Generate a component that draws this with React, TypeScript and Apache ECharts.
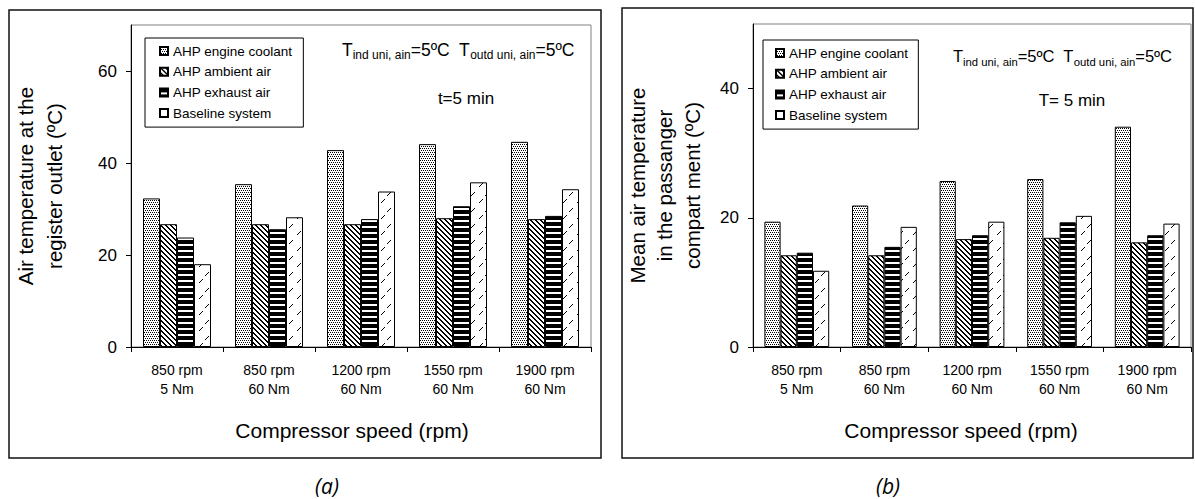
import React, { useEffect, useRef } from 'react';
import * as echarts from 'echarts';

const categories = ['850 rpm\n5 Nm', '850 rpm\n60 Nm', '1200 rpm\n60 Nm', '1550 rpm\n60 Nm', '1900 rpm\n60 Nm'];
const seriesNames = ['AHP engine coolant', 'AHP ambient air', 'AHP exhaust air', 'Baseline system'];

// (a) air temperature at the register outlet
const outletCoolant = [32.3, 35.4, 42.8, 44.1, 44.6];
const outletAmbient = [26.7, 26.7, 26.7, 28.0, 27.8];
const outletExhaust = [23.8, 25.6, 27.8, 30.6, 28.5];
const outletBaseline = [18.0, 28.2, 33.8, 35.8, 34.3];
const outletTicks = [0, 20, 40, 60];

// (b) mean air temperature in the passenger compartment
const cabinCoolant = [19.4, 21.9, 25.7, 26.0, 34.1];
const cabinAmbient = [14.2, 14.2, 16.7, 16.9, 16.2];
const cabinExhaust = [14.6, 15.5, 17.3, 19.3, 17.3];
const cabinBaseline = [11.8, 18.6, 19.4, 20.3, 19.1];
const cabinTicks = [0, 20, 40];

const FONT = 'Liberation Sans, Arial, sans-serif';

function tile(w: number, h: number, pts: number[][]) {
  const c = document.createElement('canvas');
  c.width = w;
  c.height = h;
  const ctx = c.getContext('2d') as CanvasRenderingContext2D;
  ctx.fillStyle = '#ffffff';
  ctx.fillRect(0, 0, w, h);
  ctx.fillStyle = '#000000';
  pts.forEach(([x, y, pw, ph]) => ctx.fillRect(x, y, pw || 1, ph || 1));
  return { image: c.toDataURL(), repeat: 'repeat', imageWidth: w, imageHeight: h } as any;
}

function patterns() {
  const dots = tile(4, 4, [[0, 0], [2, 0], [1, 2], [3, 2]]);
  const diag: number[][] = [];
  for (let i = 0; i < 5; i++) { diag.push([i, i]); diag.push([(i + 1) % 5, i]); }
  const back = tile(5, 5, diag);
  const stripes = tile(2, 6, [[0, 0, 2, 4]]);
  const slash = tile(14, 16, [[3, 10], [4, 9], [5, 8], [6, 7], [10, 2], [11, 1], [12, 0], [9, 3]]);
  return [dots, back, stripes, slash];
}

export default function App() {
  const ref = useRef<HTMLDivElement>(null);
  useEffect(() => {
    document.body.style.margin = '0';
    if (!ref.current) return;
    const chart = echarts.init(ref.current, null, { renderer: 'svg' });
    const pats = patterns();
    const aData = [outletCoolant, outletAmbient, outletExhaust, outletBaseline];
    const bData = [cabinCoolant, cabinAmbient, cabinExhaust, cabinBaseline];

    const legendBase = {
      orient: 'vertical',
      itemWidth: 8,
      itemHeight: 8,
      itemGap: 4.7,
      icon: 'rect',
      backgroundColor: '#fff',
      borderColor: '#000',
      borderWidth: 1,
      textStyle: { fontFamily: FONT, fontSize: 13.5, color: '#000', lineHeight: 16 },
      data: seriesNames,
    };

    const xAxisBase = (gi: number, shift: number) => ({
      type: 'category',
      gridIndex: gi,
      data: categories,
      axisLine: { lineStyle: { color: '#000', width: 1 } },
      axisTick: { show: true, length: 5, lineStyle: { color: '#000' } },
      axisLabel: { fontFamily: FONT, fontSize: 14, color: '#000', lineHeight: 19, margin: 13 },
      name: 'Compressor speed (rpm)',
      nameLocation: 'middle',
      nameGap: 73,
      nameTextStyle: { fontFamily: FONT, fontSize: 21, color: '#000', padding: [0, shift, 0, 0] },
    });

    const yAxisBase = (gi: number, max: number, ticks: number[], name: string, gap: number, lh: number) => ({
      type: 'value',
      gridIndex: gi,
      min: 0,
      max,
      axisLine: { show: true, lineStyle: { color: '#000', width: 1 } },
      axisTick: { show: true, length: 5, lineStyle: { color: '#000' }, customValues: ticks },
      axisLabel: { fontFamily: FONT, fontSize: 17, color: '#000', margin: 14, customValues: ticks },
      splitLine: { show: false },
      name,
      nameLocation: 'middle',
      nameGap: gap,
      nameTextStyle: { fontFamily: FONT, fontSize: 20.5, color: '#000', lineHeight: lh },
    });

    const series: any[] = [];
    seriesNames.forEach((n, i) => {
      series.push({
        type: 'bar', name: n, xAxisIndex: 0, yAxisIndex: 0, data: aData[i],
        barWidth: 17, barGap: '0%',
        itemStyle: { color: pats[i], borderColor: '#000', borderWidth: 1 },
      });
    });
    seriesNames.forEach((n, i) => {
      series.push({
        type: 'bar', name: n, xAxisIndex: 1, yAxisIndex: 1, data: bData[i],
        barWidth: 16.2, barGap: '0%',
        itemStyle: { color: pats[i], borderColor: '#000', borderWidth: 1 },
      });
    });

    const annot = (x: number, y: number, fm: number, fs: number) => ({
      type: 'text', x, y,
      style: {
        text: '{m|T}{s|ind uni, ain}{m|=5ºC  T}{s|outd uni, ain}{m|=5ºC}',
        verticalAlign: 'middle',
        rich: {
          m: { fontFamily: FONT, fontSize: fm, lineHeight: 22, fill: '#000', color: '#000' },
          s: { fontFamily: FONT, fontSize: fs, lineHeight: 12, verticalAlign: 'bottom', fill: '#000', color: '#000' },
        },
      },
    });

    chart.setOption({
      animation: false,
      backgroundColor: '#fff',
      grid: [
        { left: 131, top: 25, width: 460, height: 322, show: true, borderColor: '#808080', borderWidth: 1, backgroundColor: 'transparent' },
        { left: 753, top: 24, width: 438, height: 323, show: true, borderColor: '#808080', borderWidth: 1, backgroundColor: 'transparent' },
      ],
      legend: [
        { ...legendBase, left: 145, top: 38, padding: [5, 11, 6, 14] },
        { ...legendBase, left: 763, top: 40, padding: [5, 10, 6, 12] },
      ],
      xAxis: [xAxisBase(0, 18), xAxisBase(1, 22)],
      yAxis: [
        yAxisBase(0, 70, outletTicks, 'Air temperature at the\nregister outlet (ºC)', 62, 29),
        yAxisBase(1, 50, cabinTicks, 'Mean air temperature\nin the passanger\ncompart ment (ºC)', 47, 27.5),
      ],
      series,
      graphic: [
        { type: 'rect', shape: { x: 9, y: 10, width: 592, height: 448 }, style: { fill: 'none', stroke: '#111', lineWidth: 1.5 }, z: 100 },
        { type: 'rect', shape: { x: 622, y: 8, width: 571, height: 450 }, style: { fill: 'none', stroke: '#111', lineWidth: 1.5 }, z: 100 },
        annot(342, 50, 17.5, 12),
        annot(953, 56, 16.5, 11.3),
        { type: 'text', x: 466, y: 98, style: { text: 't=5 min', fontFamily: FONT, fontSize: 17, fill: '#000', align: 'center', verticalAlign: 'middle' } },
        { type: 'text', x: 1072, y: 100, style: { text: 'T= 5 min', fontFamily: FONT, fontSize: 17, fill: '#000', align: 'center', verticalAlign: 'middle' } },
        { type: 'text', x: 327, y: 486, style: { text: '(a)', fontFamily: 'Open Sans, sans-serif', fontStyle: 'italic', fontSize: 21, fill: '#000', align: 'center', verticalAlign: 'middle' } },
        { type: 'text', x: 888, y: 486, style: { text: '(b)', fontFamily: 'Open Sans, sans-serif', fontStyle: 'italic', fontSize: 21, fill: '#000', align: 'center', verticalAlign: 'middle' } },
      ],
    });
    return () => chart.dispose();
  }, []);
  return <div ref={ref} style={{ width: 1195, height: 499 }} />;
}
